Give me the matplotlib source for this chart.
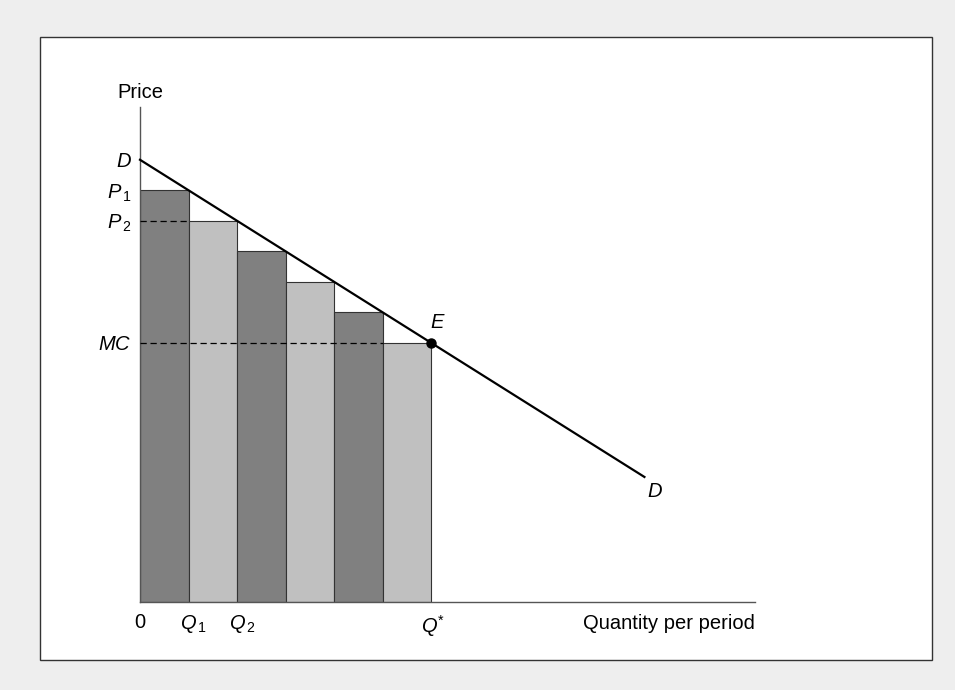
import matplotlib.pyplot as plt
from matplotlib.patches import Rectangle
from matplotlib.transforms import ScaledTranslation

# ==========
# data (price units, quantity units)

demand_intercept = 14.5
demand_end_q = 10.4
demand_slope = -1.0

bar_left = [0, 1, 2, 3, 4, 5]
bar_price = [13.5, 12.5, 11.5, 10.5, 9.5, 8.5]
bar_shade = ["dark", "light", "dark", "light", "dark", "light"]

q_star = 6
mc = 8.5
p2 = 12.5

x_ticks = [0, 1, 2, 6]
x_tick_labels = ["0", r"$Q_{\,1}$", r"$Q_{\,2}$", "$Q^{*}$"]
y_ticks = [14.5, 13.5, 12.5, 8.5]
y_tick_labels = ["$D$", r"$P_{\,1}$", r"$P_{\,2}$", "$MC$"]

x_max = 12.68
y_max = 16.23

# ==========
# style

plt.rcParams["font.family"] = ["Liberation Sans", "DejaVu Sans"]
plt.rcParams["mathtext.fontset"] = "custom"
plt.rcParams["mathtext.rm"] = "Liberation Sans"
plt.rcParams["mathtext.it"] = "Liberation Sans:italic"
plt.rcParams["mathtext.bf"] = "Liberation Sans:bold"

FS = 14.5
shade_colors = {"dark": "#808080", "light": "#c0c0c0"}
W, H = 955, 690

fig = plt.figure(figsize=(W / 100, H / 100), dpi=100, facecolor="#eeeeee")

# white panel with border (separate background axes)
bg = fig.add_axes([0, 0, 1, 1], zorder=-1)
bg.set_xlim(0, W)
bg.set_ylim(H, 0)
bg.axis("off")
bg.add_patch(Rectangle((40, 37), 892, 623, facecolor="white",
                       edgecolor="#333333", linewidth=1.0))

ax = fig.add_axes([140 / W, 1 - 602 / H, 615 / W, 495 / H], zorder=1)
ax.set_facecolor("none")
ax.set_xlim(0, x_max)
ax.set_ylim(0, y_max)

for s in ["top", "right"]:
    ax.spines[s].set_visible(False)
for s in ["left", "bottom"]:
    ax.spines[s].set_color("#555555")
    ax.spines[s].set_linewidth(1.0)

# bars
ax.bar(bar_left, bar_price, width=1, align="edge",
       color=[shade_colors[s] for s in bar_shade],
       edgecolor="#333333", linewidth=0.8, zorder=2)

# dashed guide lines
ax.plot([0, 1], [p2, p2], color="black", linestyle=(0, (5, 3)), linewidth=0.9, zorder=3)
ax.plot([0, q_star - 1], [mc, mc], color="black", linestyle=(0, (5, 3)), linewidth=0.9, zorder=3)

# demand line
ax.plot([0, demand_end_q],
        [demand_intercept, demand_intercept + demand_slope * demand_end_q],
        color="black", linewidth=1.6, zorder=4, clip_on=False)

# equilibrium
ax.plot([q_star], [mc], "o", color="black", markersize=6.5, zorder=5)
ax.text(q_star - 0.02, mc + 0.35, "$E$", fontsize=FS, ha="left", va="bottom")
ax.text(demand_end_q + 0.05, demand_intercept + demand_slope * demand_end_q - 0.15,
        "$D$", fontsize=FS, ha="left", va="top")

# axis labels
ax.set_xticks(x_ticks, x_tick_labels, fontsize=FS)
ax.set_yticks(y_ticks, y_tick_labels, fontsize=FS)
ax.tick_params(axis="both", length=0)
ax.tick_params(axis="x", pad=8)
ax.tick_params(axis="y", pad=6)

# nudge subscripted labels so the letter sits on the tick
x_shift = [0, 5, 5, 2]
for lab, dx in zip(ax.get_xticklabels(), x_shift):
    lab.set_transform(lab.get_transform() + ScaledTranslation(dx / 100, 0, fig.dpi_scale_trans))

ax.text(0, (602 - 98) / 30.5, "Price", fontsize=FS, ha="center", va="baseline", clip_on=False)
ax.text(x_max, -0.4, "Quantity per period", fontsize=FS, ha="right", va="top", clip_on=False)

fig.savefig("out.png", dpi=100, facecolor=fig.get_facecolor())
